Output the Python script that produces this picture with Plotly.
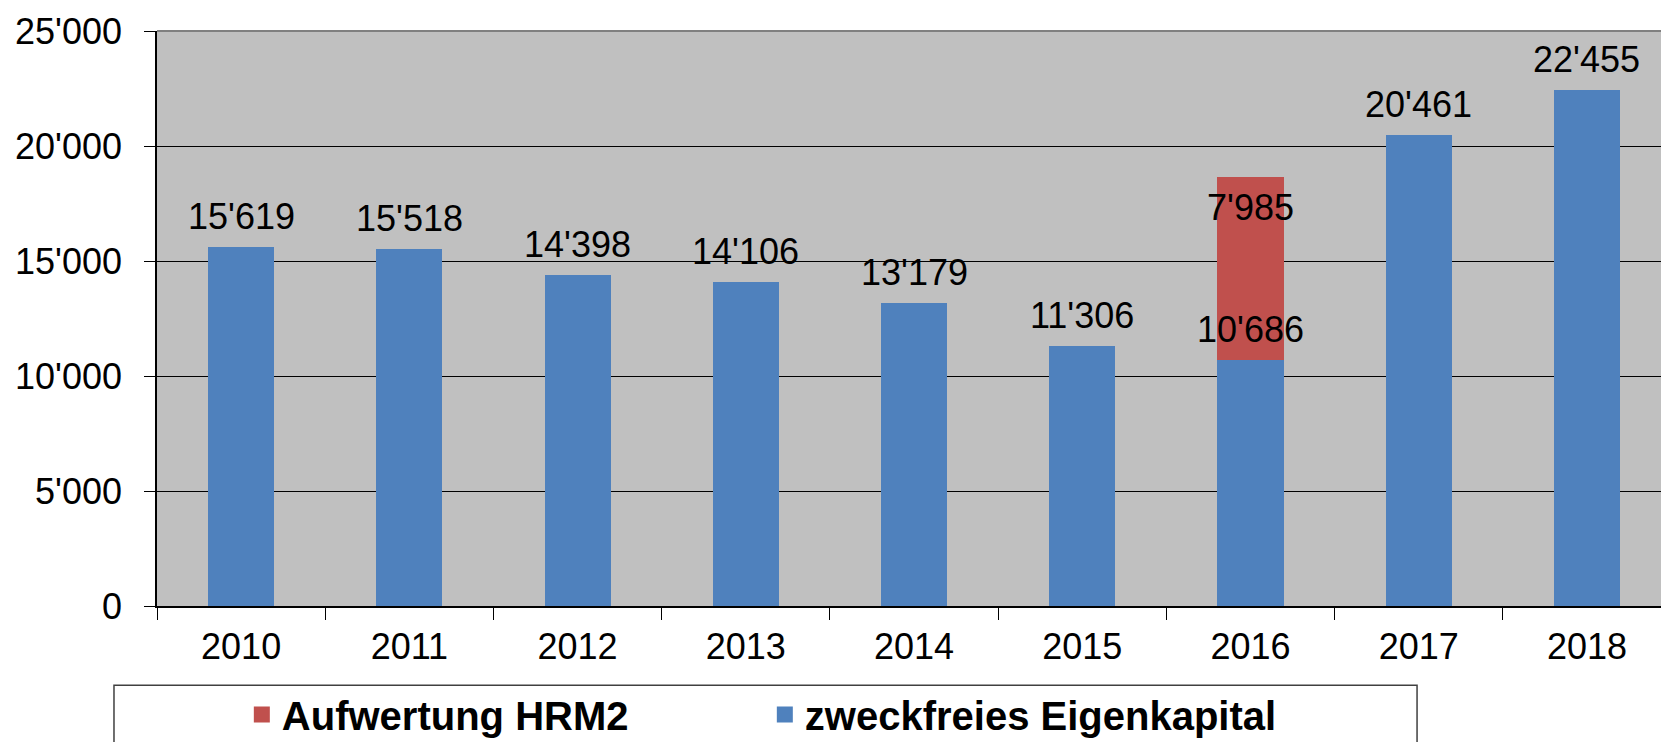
import plotly.graph_objects as go

years = ["2010", "2011", "2012", "2013", "2014", "2015", "2016", "2017", "2018"]
eigenkapital = [15619, 15518, 14398, 14106, 13179, 11306, 10686, 20461, 22455]
aufwertung = [None, None, None, None, None, None, 7985, None, None]

blue = "#4f81bd"
red = "#c0504d"
FONT = "Arial, Liberation Sans, sans-serif"

def fmt(v):
    return f"{v:,}".replace(",", "'")

fig = go.Figure()
fig.add_trace(go.Bar(x=years, y=eigenkapital, name="zweckfreies Eigenkapital",
                     marker=dict(color=blue, line=dict(width=0)), showlegend=False))
fig.add_trace(go.Bar(x=years, y=aufwertung, name="Aufwertung HRM2",
                     marker=dict(color=red, line=dict(width=0)), showlegend=False))
# legend entries (larger square keys)
fig.add_trace(go.Scatter(x=[None], y=[None], mode="markers", name="zweckfreies Eigenkapital",
                         marker=dict(symbol="square", size=22, color=blue)))
fig.add_trace(go.Scatter(x=[None], y=[None], mode="markers", name="Aufwertung HRM2",
                         marker=dict(symbol="square", size=22, color=red)))

annotations = []
for i, v in enumerate(eigenkapital):
    annotations.append(dict(x=i, y=v, xref="x", yref="y", text=fmt(v), showarrow=False,
                            yanchor="bottom", yshift=8,
                            font=dict(size=36, color="black", family=FONT)))
for i, (b, r) in enumerate(zip(eigenkapital, aufwertung)):
    if r is not None:
        annotations.append(dict(x=i, y=b + r, xref="x", yref="y", text=fmt(r), showarrow=False,
                                yanchor="top", yshift=-8,
                                font=dict(size=36, color="black", family=FONT)))

fig.update_layout(
    width=1661, height=742,
    margin=dict(l=157, r=0, t=31, b=135.5, autoexpand=False),
    paper_bgcolor="white",
    plot_bgcolor="#c0c0c0",
    barmode="stack",
    bargap=0.607,
    separators=".'",
    font=dict(family=FONT, size=36, color="black"),
    annotations=annotations,
    showlegend=True,
    legend=dict(orientation="h", traceorder="reversed",
                x=0.0564, xanchor="left", y=-0.132, yanchor="top",
                entrywidth=478, entrywidthmode="pixels",
                font=dict(size=40, family=FONT, color="black", weight="bold"),
                bgcolor="rgba(0,0,0,0)", borderwidth=0),
    shapes=[
        dict(type="rect", xref="paper", yref="paper", x0=-0.0286, x1=0.8378,
             y0=-0.138, y1=-0.3, line=dict(color="#404040", width=1.5), fillcolor="white",
             layer="below"),
        dict(type="line", xref="paper", yref="paper", x0=0, x1=1, y0=1, y1=1,
             line=dict(color="#808080", width=2), layer="above"),
    ],
    xaxis=dict(
        type="category",
        range=[-0.5, 8.44],
        showline=True, linecolor="black", linewidth=1.5,
        ticks="outside", tickson="boundaries", ticklen=12, tickcolor="black", tickwidth=1,
        tickfont=dict(size=36, family=FONT, color="black"),
        ticklabelstandoff=8,
        showgrid=False, automargin=False,
    ),
    yaxis=dict(
        range=[0, 25000], tickvals=[0, 5000, 10000, 15000, 20000, 25000],
        tickformat=",d",
        showline=True, linecolor="black", linewidth=1.5,
        ticks="outside", ticklen=11, tickcolor="black", tickwidth=1,
        tickfont=dict(size=36, family=FONT, color="black"),
        ticklabelstandoff=15,
        showgrid=True, gridcolor="black", gridwidth=1,
        zeroline=False, automargin=False,
    ),
)

fig.write_html("out.html", config={"displayModeBar": False},
               post_script="document.body.style.margin='0';document.body.style.overflow='hidden';")
